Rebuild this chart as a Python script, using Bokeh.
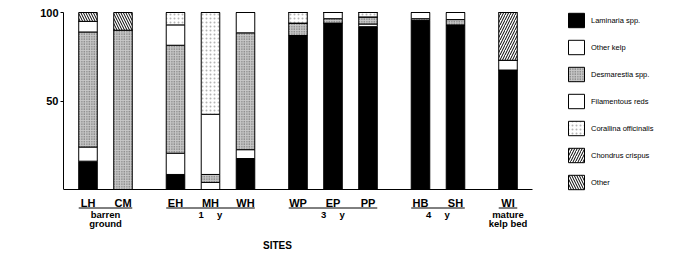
import math
from bokeh.plotting import figure
from bokeh.models import Range1d, FixedTicker, Label, LinearAxis, ColumnDataSource
from bokeh.core.properties import value
from bokeh.embed import file_html
from bokeh.resources import INLINE

# ---- data ----
NB = "\u00a0"
groups = ["barren\nground", "1" + NB * 5 + "y", "3" + NB * 5 + "y", "4" + NB * 5 + "y", "mature\nkelp bed"]
group_sites = [["LH", "CM"], ["EH", "MH", "WH"], ["WP", "EP", "PP"], ["HB", "SH"], ["WI"]]
sites = ["LH", "CM", "EH", "MH", "WH", "WP", "EP", "PP", "HB", "SH", "WI"]

laminaria   = [16.0, 0.0, 8.5, 0.0, 17.5, 87.0, 94.0, 92.0, 95.5, 93.0, 67.5]
other_kelp  = [8.0, 0.0, 12.0, 4.0, 5.0, 0.0, 0.0, 1.5, 0.0, 0.0, 5.5]
desmarestia = [65.0, 90.0, 61.0, 4.5, 66.0, 7.0, 2.5, 4.0, 1.0, 3.0, 0.0]
fil_reds    = [6.0, 0.0, 11.5, 34.0, 11.5, 0.0, 3.5, 0.0, 3.5, 4.0, 0.0]
corallina   = [0.0, 0.0, 7.0, 57.5, 0.0, 6.0, 0.0, 2.5, 0.0, 0.0, 0.0]
chondrus    = [0.0, 0.0, 0.0, 0.0, 0.0, 0.0, 0.0, 0.0, 0.0, 0.0, 27.0]
other       = [5.0, 10.0, 0.0, 0.0, 0.0, 0.0, 0.0, 0.0, 0.0, 0.0, 0.0]

series_names = ["Laminaria spp.", "Other kelp", "Desmarestia spp.", "Filamentous reds",
                "Corallina officinalis", "Chondrus crispus", "Other"]
series_keys = ["lam", "okelp", "desm", "fred", "cor", "chon", "oth"]
y_ticks = [50, 100]

# ---- layout helpers (positions derived from grouping) ----
GROUP_GAP = 0.5
pos = []
group_centers = []
group_bounds = []
i = 0
for gi, gs in enumerate(group_sites):
    ps = []
    for s in gs:
        ps.append(i + gi * GROUP_GAP)
        i += 1
    pos.extend(ps)
    group_centers.append((ps[0] + ps[-1]) / 2)
    group_bounds.append((ps[0], ps[-1]))

BW = 0.53
FONT = "Liberation Sans"
PXX = 35.0   # px per x unit
PXY = 1.77   # px per y unit

data = dict(x=pos, site=sites, lam=laminaria, okelp=other_kelp, desm=desmarestia,
            fred=fil_reds, cor=corallina, chon=chondrus, oth=other)
src = ColumnDataSource(data)

W, H = 675, 254
LEFT, TOP = 63, 10
x0 = pos[0] - 0.7
x1 = pos[0] + (W - 87.5) / PXX
y1 = 100 + (189 - 177 - TOP) / PXY
y0 = -(H - 189) / PXY

p = figure(width=W, height=H, output_backend="svg", toolbar_location=None,
           x_range=Range1d(x0, x1), y_range=Range1d(y0, y1),
           min_border_left=LEFT, min_border_right=0, min_border_top=TOP, min_border_bottom=0,
           x_axis_location=None, y_axis_location=None)
p.outline_line_color = None
p.xgrid.visible = False
p.ygrid.visible = False
p.background_fill_color = "white"
p.border_fill_color = "white"

p.vbar_stack(series_keys, x="x", width=BW, source=src,
             fill_color=["black", "white", "#c8c8c8", "white", "white", "white", "white"],
             line_color="black", line_width=1,
             hatch_pattern=[None, None, "dot", None, "dot", "right_diagonal_line", "left_diagonal_line"],
             hatch_color=["black", "black", "#505050", "black", "#b5b5b5", "black", "black"],
             hatch_scale=[6, 6, 2.5, 6, 4, 5, 5],
             hatch_weight=[1, 1, 1, 1, 1, 1, 1],
             legend_label=series_names)

# y axis
yax = LinearAxis(ticker=FixedTicker(ticks=y_ticks), bounds=(0, 100))
yax.major_label_text_font = FONT
yax.major_label_text_font_style = "bold"
yax.major_label_text_font_size = "11px"
yax.major_label_text_color = "black"
yax.major_tick_in = 0
yax.major_tick_out = 3
yax.minor_tick_line_color = None
yax.major_label_standoff = 2
yax.axis_line_color = "black"
p.add_layout(yax, "left")

# x axis baseline at 0
xax = LinearAxis(ticker=FixedTicker(ticks=[]), bounds=(x0, pos[-1] + 0.7), fixed_location=0)
xax.major_label_text_font_size = "0px"
xax.major_tick_line_color = None
xax.minor_tick_line_color = None
xax.axis_line_color = "black"
p.add_layout(xax, "below")

# site labels
p.text(x=pos, y=[-(202.5 - 189) / PXY] * len(pos), text=sites, text_align="center", text_baseline="middle",
       text_font=value(FONT), text_font_style="bold", text_font_size="11px", text_color="black")

# group underlines
p.segment(x0=[b[0] - BW / 2 for b in group_bounds], x1=[b[1] + BW / 2 for b in group_bounds],
          y0=[-(207.5 - 189) / PXY] * len(groups), y1=[-(207.5 - 189) / PXY] * len(groups),
          line_color="black", line_width=1)

# group labels
p.text(x=group_centers, y=[-(208.5 - 189) / PXY] * len(groups), text=groups, text_align="center",
       text_baseline="top", text_font=value(FONT), text_font_style="bold", text_font_size="9.5px",
       text_line_height=0.8, text_color="black")

# SITES label
p.add_layout(Label(x=pos[0] + (277 - 87.5) / PXX, y=-(245 - 189) / PXY, text="SITES",
                   text_align="center", text_baseline="middle", text_font=FONT,
                   text_font_style="bold", text_font_size="10px", text_color="black"))

# y axis title
p.add_layout(Label(x=x0 - 43 / PXX, y=50, text="COMPOSITION (%)", angle=math.pi / 2,
                   text_align="center", text_baseline="middle", text_font=FONT,
                   text_font_style="bold", text_font_size="10.5px", text_color="black"))

lg = p.legend[0]
lg.location = (566 - LEFT, H - 191)
lg.glyph_width = 20
lg.glyph_height = 18
lg.label_height = 18
lg.spacing = 9
lg.padding = 0
lg.margin = 0
lg.label_standoff = 5
lg.label_text_font = FONT
lg.label_text_font_size = "7.5px"
lg.label_text_color = "black"
lg.border_line_color = None
lg.background_fill_alpha = 0

open("out.html", "w").write(file_html(p, INLINE))
